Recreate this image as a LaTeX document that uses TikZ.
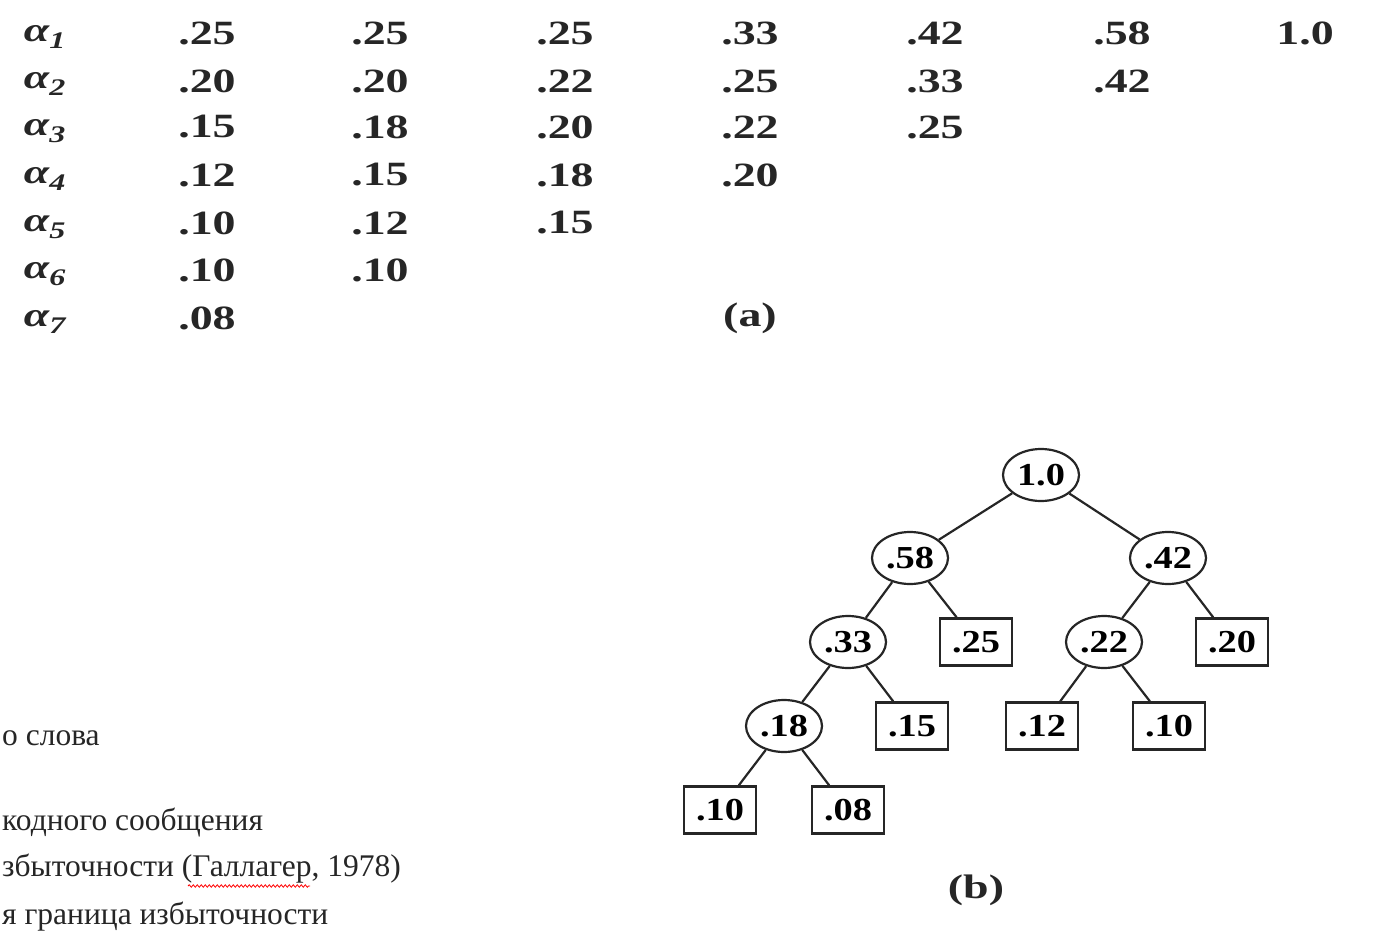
\documentclass[tikz,border=0pt]{standalone}
\usepackage{fontspec}
\setmainfont{Liberation Serif}
\usetikzlibrary{shapes.geometric,decorations.pathmorphing}
\newcommand{\W}[1]{\scalebox{1.35}[1]{#1}}
\newcommand{\Wt}[1]{\scalebox{1.2}[1]{#1}}
\begin{document}
\begin{tikzpicture}[x=1pt,y=-1pt,
  tab/.style={font=\bfseries\fontsize{34}{34}\selectfont, inner sep=0pt, text=black!85},
  lab/.style={font=\bfseries\itshape\fontsize{34}{34}\selectfont, inner sep=0pt, text=black!85},
  inode/.style={ellipse, draw=black!85, line width=2.2pt, minimum width=76pt, minimum height=52pt, inner sep=0pt, font=\bfseries\fontsize{32}{32}\selectfont},
  leaf/.style={rectangle, draw=black!85, line width=2.4pt, minimum width=72pt, minimum height=47pt, inner sep=0pt, font=\bfseries\fontsize{32}{32}\selectfont},
  edge/.style={line width=2.2pt, draw=black!85},
  cyr/.style={font=\fontsize{31.5}{31.5}\selectfont, anchor=west, inner sep=0pt, text=black!85}]
\useasboundingbox (0,0) rectangle (1374,942);
% labels
\node[lab] (a1) at (45,37) {\W{α\textsubscript{1}}};
\node[lab] (a2) at (45,84) {\W{α\textsubscript{2}}};
\node[lab] (a3) at (45,131) {\W{α\textsubscript{3}}};
\node[lab] (a4) at (45,179) {\W{α\textsubscript{4}}};
\node[lab] (a5) at (45,227) {\W{α\textsubscript{5}}};
\node[lab] (a6) at (45,274) {\W{α\textsubscript{6}}};
\node[lab] (a7) at (45,322) {\W{α\textsubscript{7}}};
% column 1
\node[tab] (c11) at (207,33) {\W{.25}};
\node[tab] (c12) at (207,81) {\W{.20}};
\node[tab] (c13) at (207,127) {\W{.15}};
\node[tab] (c14) at (207,175) {\W{.12}};
\node[tab] (c15) at (207,223) {\W{.10}};
\node[tab] (c16) at (207,270) {\W{.10}};
\node[tab] (c17) at (207,318) {\W{.08}};
% column 2
\node[tab] (c21) at (380,33) {\W{.25}};
\node[tab] (c22) at (380,81) {\W{.20}};
\node[tab] (c23) at (380,127) {\W{.18}};
\node[tab] (c24) at (380,175) {\W{.15}};
\node[tab] (c25) at (380,223) {\W{.12}};
\node[tab] (c26) at (380,270) {\W{.10}};
% column 3
\node[tab] (c31) at (565,33) {\W{.25}};
\node[tab] (c32) at (565,81) {\W{.22}};
\node[tab] (c33) at (565,127) {\W{.20}};
\node[tab] (c34) at (565,175) {\W{.18}};
\node[tab] (c35) at (565,223) {\W{.15}};
% column 4
\node[tab] (c41) at (750,33) {\W{.33}};
\node[tab] (c42) at (750,81) {\W{.25}};
\node[tab] (c43) at (750,127) {\W{.22}};
\node[tab] (c44) at (750,175) {\W{.20}};
% column 5
\node[tab] (c51) at (935,33) {\W{.42}};
\node[tab] (c52) at (935,81) {\W{.33}};
\node[tab] (c53) at (935,127) {\W{.25}};
% column 6
\node[tab] (c61) at (1122,33) {\W{.58}};
\node[tab] (c62) at (1122,81) {\W{.42}};
% column 7
\node[tab] (c71) at (1305,33) {\W{1.0}};
\node[tab] (capa) at (750,318) {\W{(a)}};
% tree
\node[inode] (n10) at (1041,475) {\Wt{1.0}};
\node[inode] (n58) at (910,558) {\Wt{.58}};
\node[inode] (n42) at (1168,558) {\Wt{.42}};
\node[inode] (n33) at (848,642) {\Wt{.33}};
\node[leaf] (l25) at (976,642) {\Wt{.25}};
\node[inode] (n22) at (1104,642) {\Wt{.22}};
\node[leaf] (l20) at (1232,642) {\Wt{.20}};
\node[inode] (n18) at (784,726) {\Wt{.18}};
\node[leaf] (l15) at (912,726) {\Wt{.15}};
\node[leaf] (l12) at (1042,726) {\Wt{.12}};
\node[leaf] (l10a) at (1169,726) {\Wt{.10}};
\node[leaf] (l10b) at (720,810) {\Wt{.10}};
\node[leaf] (l08) at (848,810) {\Wt{.08}};
\node[tab] (capb) at (976,890) {\W{(b)}};
\draw[edge] (n10) -- (n58);
\draw[edge] (n10) -- (n42);
\draw[edge] (n58) -- (n33);
\draw[edge] (n58) -- (l25);
\draw[edge] (n42) -- (n22);
\draw[edge] (n42) -- (l20);
\draw[edge] (n33) -- (n18);
\draw[edge] (n33) -- (l15);
\draw[edge] (n22) -- (l12);
\draw[edge] (n22) -- (l10a);
\draw[edge] (n18) -- (l10b);
\draw[edge] (n18) -- (l08);
% cyrillic text
\node[cyr] (t1) at (2,738) {о слова};
\node[cyr] (t2) at (2,822) {кодного сообщения};
\node[cyr] (t3) at (2,869) {збыточности (Галлагер, 1978)};
\node[cyr] (t4) at (2,917) {я граница избыточности};
\coordinate (w1) at (188,886);
\coordinate (w2) at (310,886);
\draw[red, line width=0.8pt, decorate, decoration={snake, amplitude=1.2pt, segment length=4pt}] (w1) -- (w2);
\end{tikzpicture}
\end{document}
